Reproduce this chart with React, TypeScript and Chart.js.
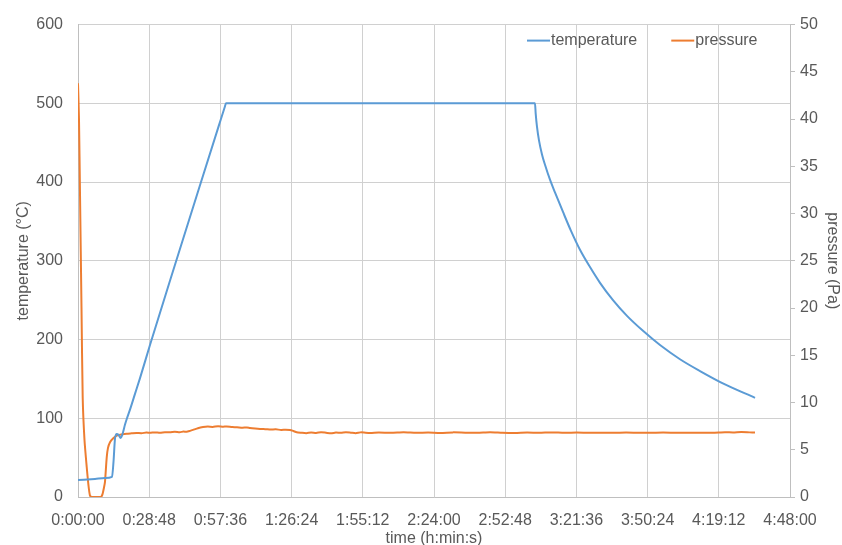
import React, { useEffect, useRef } from 'react';
import { Chart, registerables } from 'chart.js';

Chart.register(...registerables);

// ---- data (time in seconds) ----
const X_MAX = 17280; // 4:48:00
const X_STEP = 1728; // 0:28:48

const tempTime = [
  0, 413, 655, 825, 862, 898, 939, 983, 1036, 1080, 1141, 1189, 1262, 1383, 1505,
  1747, 2354, 2961, 3420, 3560, 3592, 7300, 11091, 11108, 11140, 11188, 11261, 11334,
  11455, 11576, 11771, 11965, 12183, 12426, 12669, 12984, 13324, 13712, 14125,
  14610, 15096, 15702, 16431,
];
const tempValue = [
  21.5, 23, 24, 25.5, 45, 74, 80, 79, 75, 80, 92, 100, 111, 131, 151,
  193, 295, 396, 472, 495, 500, 500, 500, 487, 470, 453, 435, 422,
  403, 387, 362, 338, 314, 292, 272, 250, 230, 211, 193,
  175, 160, 143, 126,
];

const pressTime = [
  0, 24, 49, 85, 114, 158, 211, 255, 291, 340, 450, 558, 595, 631, 655, 697, 728,
  777, 849, 939, 1060, 1182, 1300, 1420, 1540, 1660, 1747, 1870, 1990, 2110, 2233,
  2350, 2470, 2560, 2638, 2720, 2791, 2910, 3034, 3150, 3270, 3400, 3520, 3609,
  3740, 3860, 3990, 4100, 4174, 4300, 4417, 4550, 4680, 4800, 4930, 5040, 5145,
  5230, 5308, 5420, 5540, 5660, 5780, 5900, 6020, 6140, 6260, 6380, 6500, 6620,
  6740, 6860, 6980, 7100, 7300, 7600, 7900, 8200, 8500, 8800, 9100, 9400, 9700,
  10000, 10300, 10600, 10900, 11200, 11500, 11800, 12100, 12400, 12700, 13000,
  13300, 13600, 13900, 14200, 14500, 14800, 15100, 15400, 15700, 15900, 16100,
  16300, 16431,
];
const pressValue = [
  43.8, 40, 32, 20, 10.5, 6, 3.2, 1.2, 0.15, 0, 0, 0, 0.3, 1.0, 1.6, 4.2, 5.2,
  5.8, 6.2, 6.5, 6.62, 6.7, 6.74, 6.78, 6.75, 6.82, 6.8, 6.84, 6.8, 6.86, 6.85,
  6.9, 6.86, 6.92, 6.9, 7.0, 7.1, 7.28, 7.4, 7.45, 7.42, 7.5, 7.44, 7.47,
  7.4, 7.38, 7.33, 7.36, 7.3, 7.24, 7.2, 7.18, 7.15, 7.16, 7.1, 7.12, 7.1,
  6.98, 6.85, 6.8, 6.76, 6.83, 6.78, 6.86, 6.8, 6.74, 6.82, 6.79, 6.85, 6.81,
  6.76, 6.84, 6.8, 6.78, 6.83, 6.79, 6.85, 6.8, 6.82, 6.78, 6.84, 6.81, 6.8,
  6.85, 6.8, 6.78, 6.82, 6.8, 6.84, 6.79, 6.82, 6.8, 6.81, 6.79,
  6.82, 6.8, 6.8, 6.83, 6.8, 6.79, 6.81, 6.8, 6.86, 6.84, 6.88,
  6.84, 6.82,
];

const seriesLabels = ['temperature', 'pressure'];
const xTitle = 'time (h:min:s)';
const yTitle = 'temperature (°C)';
const y2Title = 'pressure (Pa)';

// ---- styles ----
const FONT_FAMILY = '"Liberation Sans", Arial, Helvetica, sans-serif';
const TEXT = '#595959';
const GRID = '#d0d0d0';
const AXIS = '#bfbfbf';
const BLUE = '#5b9bd5';
const ORANGE = '#ed7d31';

const pad2 = (n: number) => (n < 10 ? '0' + n : '' + n);
const fmtTime = (v: number | string) => {
  const s = Math.round(Number(v));
  const h = Math.floor(s / 3600);
  const m = Math.floor((s % 3600) / 60);
  const sec = s % 60;
  return `${h}:${pad2(m)}:${pad2(sec)}`;
};

const insideLegend = {
  id: 'insideLegend',
  afterDraw(chart: any) {
    const { ctx, chartArea } = chart;
    ctx.save();
    ctx.font = `16px ${FONT_FAMILY}`;
    ctx.textBaseline = 'middle';
    ctx.textAlign = 'left';
    let x = chartArea.right - 263;
    const y = chartArea.top + 16;
    chart.data.datasets.forEach((ds: any) => {
      ctx.strokeStyle = ds.borderColor;
      ctx.lineWidth = 2;
      ctx.beginPath();
      ctx.moveTo(x, y);
      ctx.lineTo(x + 23, y);
      ctx.stroke();
      ctx.fillStyle = TEXT;
      ctx.fillText(ds.label, x + 24, y);
      x += 24 + ctx.measureText(ds.label).width + 34;
    });
    ctx.restore();
  },
};

export default function App() {
  const ref = useRef<HTMLCanvasElement>(null);

  useEffect(() => {
    document.body.style.margin = '0';
    const tickFont = { family: FONT_FAMILY, size: 16 };
    const titleFont = { family: FONT_FAMILY, size: 16 };
    const chart = new Chart(ref.current as HTMLCanvasElement, {
      type: 'line',
      data: {
        datasets: [
          {
            label: seriesLabels[0],
            data: tempTime.map((t, i) => ({ x: t, y: tempValue[i] })),
            borderColor: BLUE,
            backgroundColor: BLUE,
            borderWidth: 2,
            pointRadius: 0,
            cubicInterpolationMode: 'monotone',
            yAxisID: 'y',
          },
          {
            label: seriesLabels[1],
            data: pressTime.map((t, i) => ({ x: t, y: pressValue[i] })),
            borderColor: ORANGE,
            backgroundColor: ORANGE,
            borderWidth: 2,
            pointRadius: 0,
            tension: 0.2,
            yAxisID: 'y2',
          },
        ],
      },
      options: {
        responsive: false,
        animation: false,
        layout: { padding: { top: 22, left: 0, right: 0, bottom: 0 } },
        plugins: { legend: { display: false }, tooltip: { enabled: false } },
        scales: {
          x: {
            type: 'linear',
            min: 0,
            max: X_MAX,
            ticks: {
              stepSize: X_STEP,
              callback: (v: any) => fmtTime(v),
              color: TEXT,
              font: tickFont,
              padding: 14,
              maxRotation: 0,
              autoSkip: false,
            },
            grid: { color: GRID, drawTicks: false },
            border: { color: AXIS },
            title: {
              display: true,
              text: xTitle,
              color: TEXT,
              font: titleFont,
              padding: { top: 0, bottom: -3 },
            },
            afterFit: (s: any) => {
              s.height = 48;
            },
          },
          y: {
            position: 'left',
            min: 0,
            max: 600,
            ticks: { stepSize: 100, color: TEXT, font: tickFont, padding: 15 },
            grid: { color: GRID, drawTicks: false },
            border: { color: AXIS },
            title: {
              display: true,
              text: yTitle,
              color: TEXT,
              font: titleFont,
              padding: { top: 14, bottom: 0 },
            },
            afterFit: (s: any) => {
              s.width = 78;
            },
          },
          y2: {
            position: 'right',
            min: 0,
            max: 50,
            ticks: { stepSize: 5, color: TEXT, font: tickFont, padding: 5 },
            grid: { drawOnChartArea: false, drawTicks: true, tickLength: 5, color: AXIS },
            border: { color: AXIS },
            title: {
              display: true,
              text: y2Title,
              color: TEXT,
              font: titleFont,
              padding: { top: 0, bottom: 0 },
            },
            afterFit: (s: any) => {
              s.width = 52;
            },
          },
        },
      } as any,
      plugins: [insideLegend],
    });
    return () => chart.destroy();
  }, []);

  return (
    <div style={{ width: 842, height: 545 }}>
      <canvas ref={ref} width={842} height={545} style={{ display: 'block' }} />
    </div>
  );
}
